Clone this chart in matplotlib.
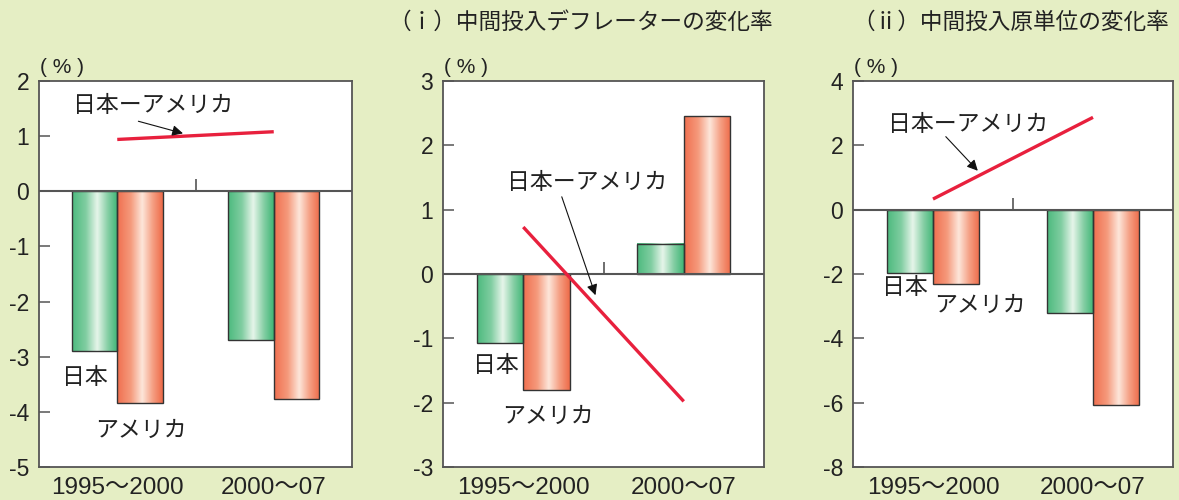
import numpy as np
import matplotlib
matplotlib.use("Agg")
import matplotlib.pyplot as plt
from matplotlib.colors import LinearSegmentedColormap

FONT = ['Liberation Sans', 'Noto Sans CJK JP', 'DejaVu Sans']
plt.rcParams['font.family'] = FONT

# ---- data ----
periods = ["1995〜2000", "2000〜07"]

total_japan = [-2.90, -2.69]
total_usa = [-3.84, -3.77]

deflator_japan = [-1.07, 0.47]
deflator_usa = [-1.80, 2.45]

unit_japan = [-1.98, -3.21]
unit_usa = [-2.31, -6.08]

panel_titles = ["", "（ｉ）中間投入デフレーターの変化率", "（ⅱ）中間投入原単位の変化率"]
ylims = [(-5, 2), (-3, 3), (-8, 4)]
yticks = [list(range(-5, 3)), list(range(-3, 4)), list(range(-8, 5, 2))]

diff_label = "日本ーアメリカ"
japan_label = "日本"
usa_label = "アメリカ"

BG = '#e5eec4'
RED = '#e8203d'
SPINE = '#555555'
TXT = '#222222'

green_cmap = LinearSegmentedColormap.from_list(
    'g', [(0.0, '#4cba7e'), (0.3, '#80cda1'), (0.55, '#e6f5ea'),
          (0.78, '#86cfa5'), (1.0, '#3db575')])
orange_cmap = LinearSegmentedColormap.from_list(
    'o', [(0.0, '#f06f4f'), (0.3, '#f59a7c'), (0.55, '#fde6da'),
          (0.78, '#f59f83'), (1.0, '#ee6a48')])
grad = np.linspace(0, 1, 256).reshape(1, -1)

fig = plt.figure(figsize=(11.79, 5.0), dpi=100, facecolor=BG)

axes_pos = [
    [39 / 1179, 1 - 467 / 500, 313 / 1179, 386 / 500],
    [443 / 1179, 1 - 467 / 500, 321 / 1179, 386 / 500],
    [853 / 1179, 1 - 467 / 500, 320 / 1179, 386 / 500],
]

datasets = [(total_japan, total_usa), (deflator_japan, deflator_usa), (unit_japan, unit_usa)]

# annotation placements (data coords) per panel
diff_text_pos = [(-0.28, 1.56), (-0.10, 1.43), (-0.28, 2.64)]
arrow_tail = [(0.135, 1.27), (0.24, 1.20), (0.08, 2.27)]
arrow_head = [(0.42, 1.05), (0.45, -0.33), (0.28, 1.21)]
jp_text_pos = [(-0.35, -3.38), (-0.31, -1.42), (-0.32, -2.42)]
us_text_pos = [(-0.14, -4.34), (-0.13, -2.22), (0.01, -2.98)]

width = 0.29
x = np.arange(len(periods))

for i, (pos, (jp, us)) in enumerate(zip(axes_pos, datasets)):
    ax = fig.add_axes(pos)
    ax.set_facecolor('white')

    for vals, cmap, off in ((jp, green_cmap, -width / 2), (us, orange_cmap, width / 2)):
        bars = ax.bar(x + off, vals, width=width, facecolor='none',
                      edgecolor='#333333', linewidth=1.0, zorder=3)
        for b in bars:
            x0, y0 = b.get_x(), b.get_y()
            w, h = b.get_width(), b.get_height()
            ax.imshow(grad, cmap=cmap, aspect='auto',
                      extent=(x0, x0 + w, min(y0, y0 + h), max(y0, y0 + h)),
                      zorder=2, interpolation='bilinear')
    ax.set_xlim(-0.5, 1.5)
    ax.set_ylim(*ylims[i])

    diff = np.array(jp) - np.array(us)
    ax.plot(x, diff, color=RED, lw=2.4, zorder=5, solid_capstyle='butt')

    ax.axhline(0, color=SPINE, lw=1.5, zorder=4)
    ax.plot([0.5], [0], marker=2, markersize=9, color=SPINE, mew=1.2, zorder=4)

    for s in ax.spines.values():
        s.set_color(SPINE)
        s.set_linewidth(1.3)

    ax.set_yticks(yticks[i])
    ax.set_yticklabels([str(t) for t in yticks[i]])
    ax.tick_params(axis='y', direction='in', length=8, width=1.1, color=SPINE,
                   labelsize=16.5, pad=7, labelcolor=TXT)
    ax.set_xticks(x)
    ax.set_xticklabels(periods)
    ax.tick_params(axis='x', length=0, labelsize=17.5, pad=7, labelcolor=TXT)

    ax.annotate("( % )", xy=(0, 1), xycoords='axes fraction', xytext=(1, 3),
                textcoords='offset points', ha='left', va='bottom',
                fontsize=15, color=TXT)

    ax.text(*diff_text_pos[i], diff_label, fontsize=16.5, ha='left', va='center',
            color=TXT, zorder=6)
    ax.annotate('', xy=arrow_head[i], xytext=arrow_tail[i],
                arrowprops=dict(arrowstyle='-|>', color='#111111', lw=0.8,
                                mutation_scale=16, shrinkA=0, shrinkB=0), zorder=6)
    ax.text(*jp_text_pos[i], japan_label, fontsize=16.5, ha='left', va='center',
            color=TXT, zorder=6)
    ax.text(*us_text_pos[i], usa_label, fontsize=16.5, ha='left', va='center',
            color=TXT, zorder=6)

fig.text(388 / 1179, 1 - 22 / 500, panel_titles[1], fontsize=16.3, ha='left',
         va='center', color=TXT)
fig.text(852 / 1179, 1 - 22 / 500, panel_titles[2], fontsize=16.3, ha='left',
         va='center', color=TXT)

fig.savefig('out.png', dpi=100, facecolor=BG)
